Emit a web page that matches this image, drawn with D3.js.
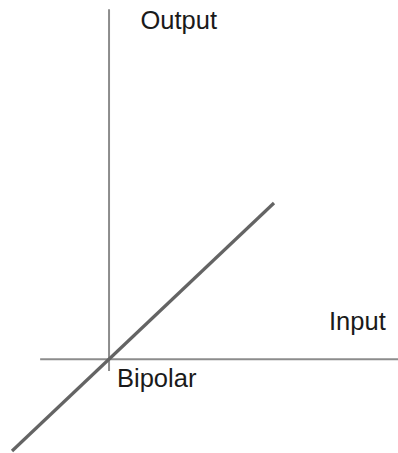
<!DOCTYPE html>
<html>
<head>
<meta charset="utf-8">
<script src="https://cdn.jsdelivr.net/npm/d3@7"></script>
<style>
html, body { margin: 0; padding: 0; background: #fff; }
svg { display: block; }
</style>
</head>
<body>
<svg id="chart" width="398" height="453"></svg>
<script>
// Transfer characteristic (bipolar): output equals input
const inputValues = [-1.0, 1.7];
const outputValues = [-1.0, 1.7];
// axis extents in data units
const xAxisExtent = [-0.71, 2.98];
const yAxisExtent = [-0.13, 3.81];
// labels
const axisLabels = { x: "Input", y: "Output" };
const modeLabel = "Bipolar";

const svg = d3.select("#chart");
const x = d3.scaleLinear().domain([-1, 1.7]).range([12, 274]);
const y = d3.scaleLinear().domain([-1, 1.7]).range([451, 203]);

// axes
svg.append("line")
  .attr("x1", x(xAxisExtent[0])).attr("x2", x(xAxisExtent[1]))
  .attr("y1", y(0)).attr("y2", y(0))
  .attr("stroke", "#8c8c8c").attr("stroke-width", 2);
svg.append("line")
  .attr("x1", x(0)).attr("x2", x(0))
  .attr("y1", y(yAxisExtent[0])).attr("y2", y(yAxisExtent[1]))
  .attr("stroke", "#8c8c8c").attr("stroke-width", 2);

// transfer line
const pts = inputValues.map((v, i) => [v, outputValues[i]]);
svg.append("path")
  .datum(pts)
  .attr("d", d3.line().x(d => x(d[0])).y(d => y(d[1])))
  .attr("fill", "none")
  .attr("stroke", "#646464")
  .attr("stroke-width", 3.2);

const font = "Liberation Sans, Arial, sans-serif";
const fs = 25.5;
svg.append("text").text(axisLabels.y)
  .attr("x", 140.5).attr("y", 29)
  .attr("font-family", font).attr("font-size", fs).attr("fill", "#1a1a1a");
svg.append("text").text(axisLabels.x)
  .attr("x", 329).attr("y", 329.5)
  .attr("font-family", font).attr("font-size", fs).attr("fill", "#1a1a1a");
svg.append("text").text(modeLabel)
  .attr("x", 117).attr("y", 386.5)
  .attr("font-family", font).attr("font-size", fs).attr("fill", "#1a1a1a");
</script>
</body>
</html>
